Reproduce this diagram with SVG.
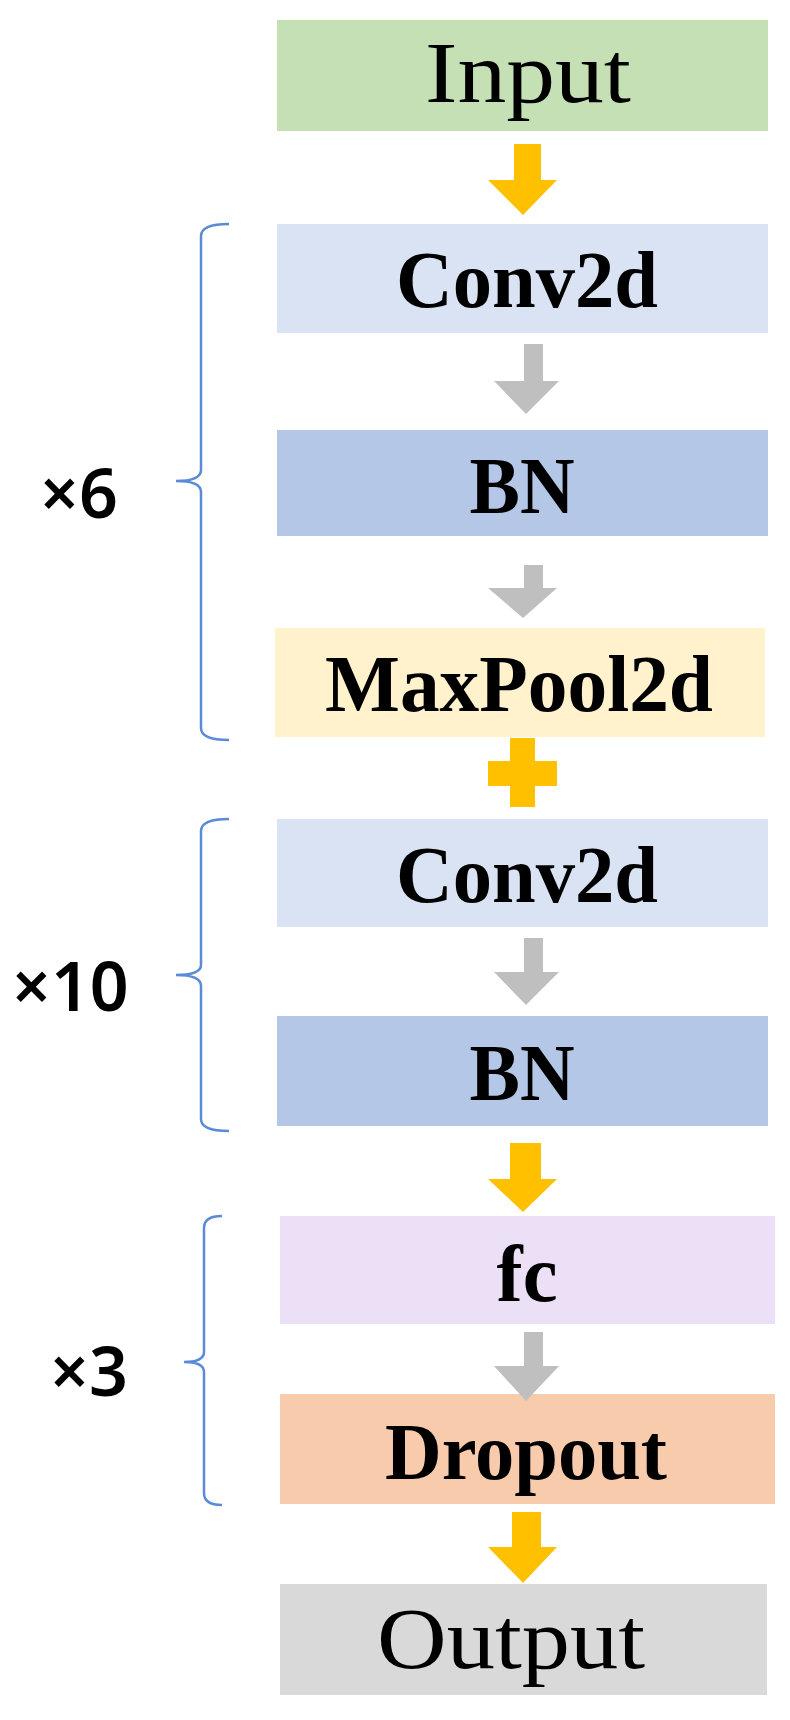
<svg xmlns="http://www.w3.org/2000/svg" width="790" height="1720" viewBox="0 0 790 1720">
<style>
.t{font-family:"Liberation Serif","Times New Roman",serif;font-size:80px;fill:#000;text-anchor:middle}
.r{font-size:86px}
.b{font-weight:bold}
.m{font-family:"Noto Sans","DejaVu Sans",sans-serif;font-size:68px;font-weight:600;fill:#000}
.br{fill:none;stroke:#5b8bd8;stroke-width:2.5}
.o{fill:#ffc000}.g{fill:#bfbfbf}
</style>
<rect width="790" height="1720" fill="#fff"/>
<g id="input"><rect x="277" y="20" width="491" height="111" fill="#c5e0b4"/><text class="t r" x="528" y="102" textLength="206" lengthAdjust="spacingAndGlyphs">Input</text></g>
<g id="conv2d-1"><rect x="277" y="224" width="491" height="109" fill="#dae3f3"/><text class="t b" x="527" y="307" textLength="262" lengthAdjust="spacingAndGlyphs">Conv2d</text></g>
<g id="bn-1"><rect x="277" y="430" width="491" height="106" fill="#b4c7e7"/><text class="t b" x="522" y="513" textLength="105" lengthAdjust="spacingAndGlyphs">BN</text></g>
<g id="maxpool"><rect x="275" y="628" width="490" height="109" fill="#fff2cc"/><text class="t b" x="519" y="711" textLength="388" lengthAdjust="spacingAndGlyphs">MaxPool2d</text></g>
<g id="conv2d-2"><rect x="277" y="819" width="491" height="108" fill="#dae3f3"/><text class="t b" x="527" y="902" textLength="262" lengthAdjust="spacingAndGlyphs">Conv2d</text></g>
<g id="bn-2"><rect x="277" y="1016" width="491" height="110" fill="#b4c7e7"/><text class="t b" x="522" y="1100" textLength="105" lengthAdjust="spacingAndGlyphs">BN</text></g>
<g id="fc"><rect x="280" y="1216" width="495" height="108" fill="#ebe0f5"/><text class="t b" x="527" y="1301" textLength="61" lengthAdjust="spacingAndGlyphs">fc</text></g>
<g id="dropout"><rect x="280" y="1394" width="495" height="110" fill="#f8cbad"/><text class="t b" x="526" y="1479" textLength="282" lengthAdjust="spacingAndGlyphs">Dropout</text></g>
<g id="output"><rect x="280" y="1584" width="487" height="111" fill="#d9d9d9"/><text class="t r" x="511" y="1668" textLength="268" lengthAdjust="spacingAndGlyphs">Output</text></g>
<g id="connectors">
<polygon class="o" points="514,144 541,144 541,180 557,180 523,215 488,180 514,180"/>
<polygon class="g" points="524,344 543,344 543,381 559,381 526,414 494,381 524,381"/>
<polygon class="g" points="524,565 543,565 543,588 557,588 523,618 488,588 524,588"/>
<polygon class="o" points="510,738 535,738 535,761 557,761 557,786 535,786 535,807 510,807 510,786 488,786 488,761 510,761"/>
<polygon class="g" points="524,938 543,938 543,972 559,972 526,1005 494,972 524,972"/>
<polygon class="o" points="510,1143 541,1143 541,1179 557,1179 523,1212 488,1179 510,1179"/>
<polygon class="g" points="524,1332 543,1332 543,1366 559,1366 526,1401 494,1366 524,1366"/>
<polygon class="o" points="512,1512 541,1512 541,1547 557,1547 523,1583 488,1547 512,1547"/>
</g>
<g id="bracket-6"><path class="br" d="M229,224 Q201,224 201,236 V470 Q201,481 176,481 Q201,481 201,492 V728 Q201,740 229,740"/><text class="m" x="40" y="518">×6</text></g>
<g id="bracket-10"><path class="br" d="M229,819 Q201,819 201,831 V965 Q201,975 176,975 Q201,975 201,986 V1119 Q201,1131 229,1131"/><text class="m" x="12" y="1011">×10</text></g>
<g id="bracket-3"><path class="br" d="M222,1216 Q204,1216 204,1228 V1352 Q204,1362 184,1362 Q204,1362 204,1372 V1493 Q204,1505 222,1505"/><text class="m" x="50" y="1396">×3</text></g>
</svg>
